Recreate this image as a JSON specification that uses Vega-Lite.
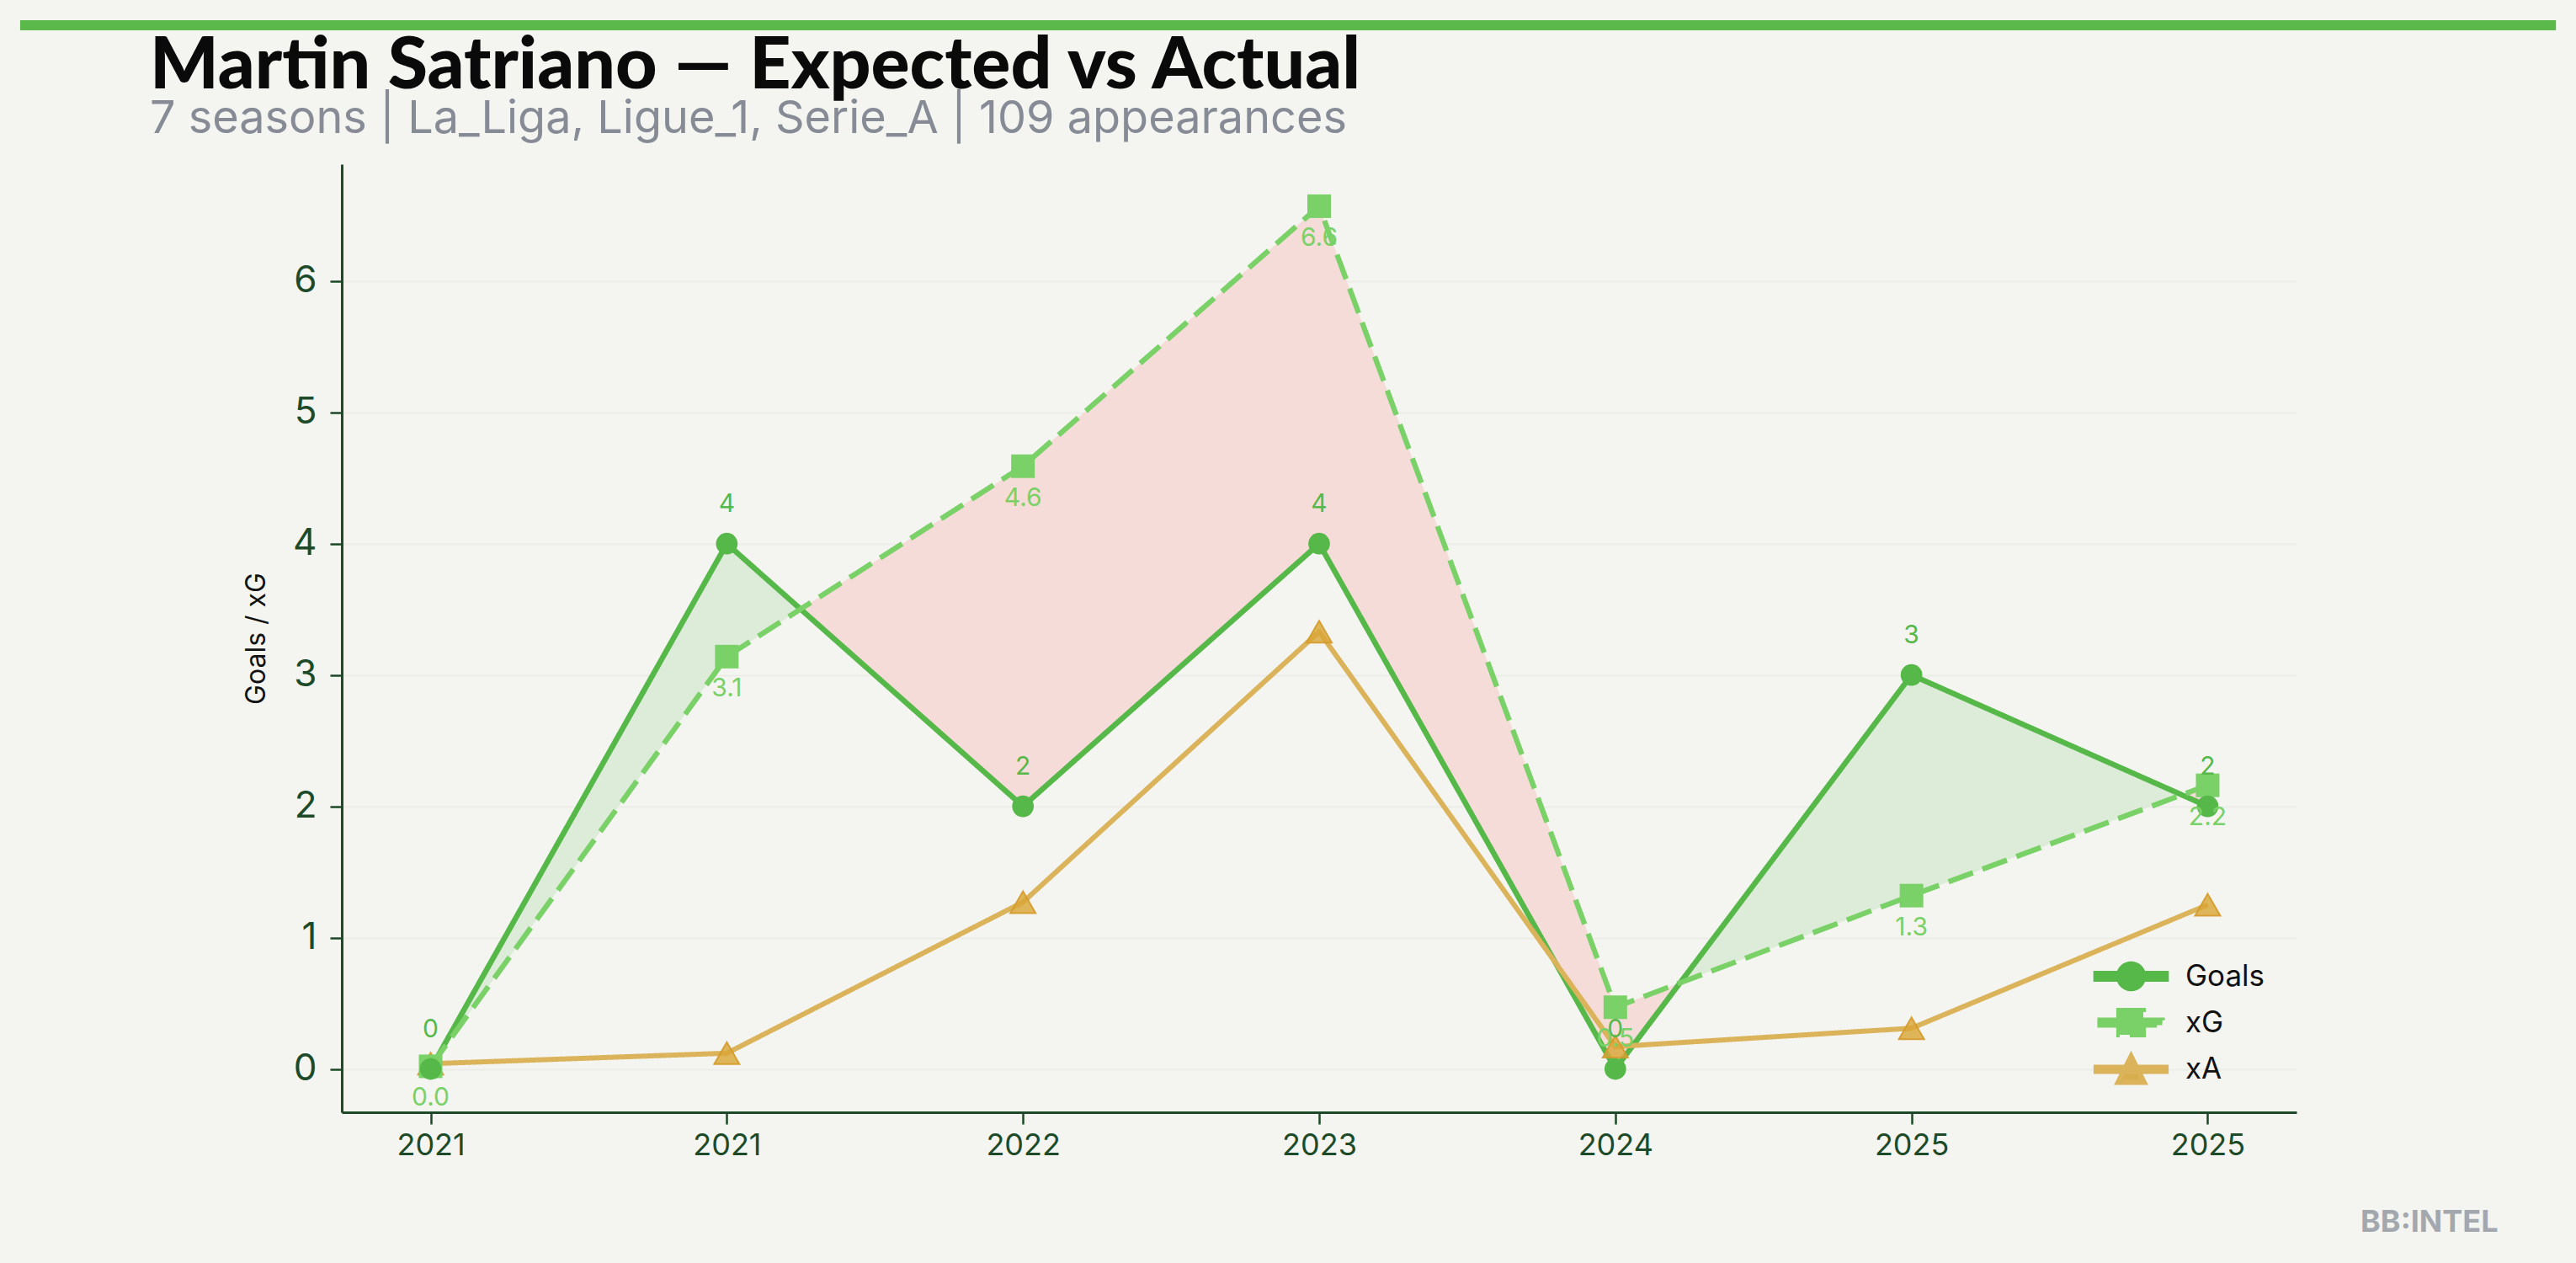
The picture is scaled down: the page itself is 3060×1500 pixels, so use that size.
{
  "$schema": "https://vega.github.io/schema/vega-lite/v6.json",
  "autosize": {"type": "none"},
  "width": 2322,
  "height": 1126,
  "padding": {"left": 406, "top": 195, "right": 332, "bottom": 179},
  "background": "#f4f5f0",
  "config": {
    "view": {"stroke": null, "fill": "#f4f5f0"},
    "font": "Inter"
  },
  "title": {
    "text": "Martin Satriano — Expected vs Actual",
    "subtitle": "7 seasons | La_Liga, Ligue_1, Serie_A | 109 appearances",
    "anchor": "start",
    "frame": "group",
    "dx": -228,
    "offset": -146,
    "font": "Lato",
    "fontWeight": 900,
    "fontSize": 86,
    "color": "#0a0a0a",
    "subtitleFont": "Inter",
    "subtitleFontSize": 54,
    "subtitleColor": "#868b96",
    "subtitlePadding": -8
  },
  "data": {
    "values": [
      {"i": 0, "season": "2021", "Goals": 0, "xG": 0.02, "xA": 0.04},
      {"i": 1, "season": "2021", "Goals": 4, "xG": 3.14, "xA": 0.12},
      {"i": 2, "season": "2022", "Goals": 2, "xG": 4.59, "xA": 1.27},
      {"i": 3, "season": "2023", "Goals": 4, "xG": 6.57, "xA": 3.33},
      {"i": 4, "season": "2024", "Goals": 0, "xG": 0.47, "xA": 0.17},
      {"i": 5, "season": "2025", "Goals": 3, "xG": 1.32, "xA": 0.31},
      {"i": 6, "season": "2025", "Goals": 2, "xG": 2.16, "xA": 1.25}
    ]
  },
  "layer": [
    {
      "mark": {
        "type": "area",
        "color": {
          "gradient": "linear", "x1": 0, "x2": 1, "y1": 0, "y2": 0,
          "stops": [
            {"offset": 0, "color": "#f5dcd8"},
            {"offset": 0.0038, "color": "#f5dcd8"},
            {"offset": 0.0038, "color": "#dcecd8"},
            {"offset": 0.2082, "color": "#dcecd8"},
            {"offset": 0.2082, "color": "#f5dcd8"},
            {"offset": 0.7031, "color": "#f5dcd8"},
            {"offset": 0.7031, "color": "#dcecd8"},
            {"offset": 0.9855, "color": "#dcecd8"},
            {"offset": 0.9855, "color": "#f5dcd8"},
            {"offset": 1, "color": "#f5dcd8"}
          ]
        },
        "opacity": 1
      },
      "encoding": {
        "x": {
          "field": "i", "type": "quantitative",
          "scale": {"domain": [-0.3, 6.3], "nice": false, "zero": false},
          "axis": {
            "values": [0, 1, 2, 3, 4, 5, 6],
            "labelExpr": "['2021','2021','2022','2023','2024','2025','2025'][datum.value]",
            "grid": false,
            "domainColor": "#1d4a28", "domainWidth": 3,
            "tickColor": "#1d4a28", "tickWidth": 2.5, "tickSize": 14,
            "labelFont": "Inter", "labelFontSize": 36, "labelColor": "#1d4a28", "labelPadding": 8,
            "title": "BB:INTEL",
            "titleX": 2561, "titleY": 141, "titleAlign": "right", "titleBaseline": "alphabetic",
            "titleFont": "Inter", "titleFontWeight": 700, "titleFontSize": 36, "titleColor": "#a3a7ae"
          }
        },
        "y": {
          "field": "Goals", "type": "quantitative",
          "scale": {"domain": [-0.33, 6.89], "nice": false, "zero": false},
          "axis": {
            "values": [0, 1, 2, 3, 4, 5, 6],
            "format": "d",
            "grid": true, "gridColor": "#ecede7", "gridWidth": 2,
            "domainColor": "#1d4a28", "domainWidth": 3,
            "tickColor": "#1d4a28", "tickWidth": 2.5, "tickSize": 14,
            "labelFont": "Inter", "labelFontSize": 44, "labelColor": "#1d4a28", "labelPadding": 16,
            "title": "Goals / xG",
            "titleFont": "Inter", "titleFontSize": 32, "titleFontWeight": 400, "titleColor": "#111111", "titlePadding": 26
          }
        },
        "y2": {"field": "xG"}
      }
    },
    {
      "data": {"values": [{}]},
      "mark": {"type": "rule", "color": "#5ab94a", "strokeWidth": 12, "strokeCap": "butt", "clip": false},
      "encoding": {
        "x": {"datum": -1.386, "type": "quantitative"},
        "x2": {"datum": 7.176},
        "y": {"datum": 7.948, "type": "quantitative"}
      }
    },
    {
      "transform": [{"fold": ["Goals", "xG", "xA"], "as": ["series", "value"]}],
      "mark": {"type": "line", "strokeCap": "butt", "strokeJoin": "round"},
      "encoding": {
        "x": {"field": "i", "type": "quantitative"},
        "y": {"field": "value", "type": "quantitative"},
        "color": {
          "field": "series", "type": "nominal",
          "scale": {"domain": ["Goals", "xG", "xA"], "range": ["#57b84a", "#7ad167", "#dbb35a"]},
          "legend": {
            "orient": "none", "legendX": 2101, "legendY": 940,
            "title": null, "padding": 0,
            "symbolSize": 1764, "symbolType": "circle",
            "rowPadding": 0, "labelOffset": 40,
            "labelFont": "Inter", "labelFontSize": 35, "labelColor": "#111111",
            "encode": {
              "symbols": {
                "update": {
                  "shape": {"signal": "datum.value === 'Goals' ? 'M-1.98,-0.15H1.98V0.15H-1.98Z M0.69,0A0.69,0.69 0 1,1 -0.69,0A0.69,0.69 0 1,1 0.69,0Z' : datum.value === 'xG' ? 'M-1.76,-0.14H1.76V0.14H-1.76Z M-0.69,-0.69H0.69V0.69H-0.69Z' : 'M-1.98,-0.12H1.98V0.12H-1.98Z M0,-0.74L0.74,0.74H-0.74Z'"},
                  "fill": {"signal": "datum.value === 'Goals' ? '#57b84a' : datum.value === 'xG' ? '#7ad167' : '#d9ae4f'"},
                  "stroke": {"value": "transparent"},
                  "strokeWidth": {"value": 0},
                  "strokeDash": {"value": [1, 0]},
                  "opacity": {"value": 1},
                  "size": {"value": 1764}
                }
              }
            }
          }
        },
        "strokeDash": {
          "field": "series", "type": "nominal",
          "scale": {"domain": ["Goals", "xG", "xA"], "range": [[1, 0], [31, 12], [1, 0]]},
          "legend": null
        },
        "strokeWidth": {
          "field": "series", "type": "nominal",
          "scale": {"domain": ["Goals", "xG", "xA"], "range": [6.5, 6, 5]},
          "legend": null
        }
      }
    },
    {
      "mark": {"type": "point", "shape": "triangle-up", "filled": true, "size": 900, "color": "#d9a534", "fillOpacity": 0.8, "stroke": "#d49a2a", "strokeWidth": 2, "strokeOpacity": 0.9},
      "encoding": {"x": {"field": "i", "type": "quantitative"}, "y": {"field": "xA", "type": "quantitative"}}
    },
    {
      "mark": {"type": "point", "shape": "square", "filled": true, "size": 784, "color": "#7ad167", "opacity": 1},
      "encoding": {"x": {"field": "i", "type": "quantitative"}, "y": {"field": "xG", "type": "quantitative"}}
    },
    {
      "mark": {"type": "point", "shape": "circle", "filled": true, "size": 660, "color": "#57b84a", "opacity": 1},
      "encoding": {"x": {"field": "i", "type": "quantitative"}, "y": {"field": "Goals", "type": "quantitative"}}
    },
    {
      "mark": {"type": "text", "dy": -47, "fontSize": 30, "font": "Inter", "color": "#57b84a"},
      "encoding": {"x": {"field": "i", "type": "quantitative"}, "y": {"field": "Goals", "type": "quantitative"}, "text": {"field": "Goals", "type": "quantitative"}}
    },
    {
      "mark": {"type": "text", "dy": 38, "fontSize": 30, "font": "Inter", "color": "#7ad167"},
      "encoding": {"x": {"field": "i", "type": "quantitative"}, "y": {"field": "xG", "type": "quantitative"}, "text": {"field": "xG", "type": "quantitative", "format": ".1f"}}
    }
  ]
}
